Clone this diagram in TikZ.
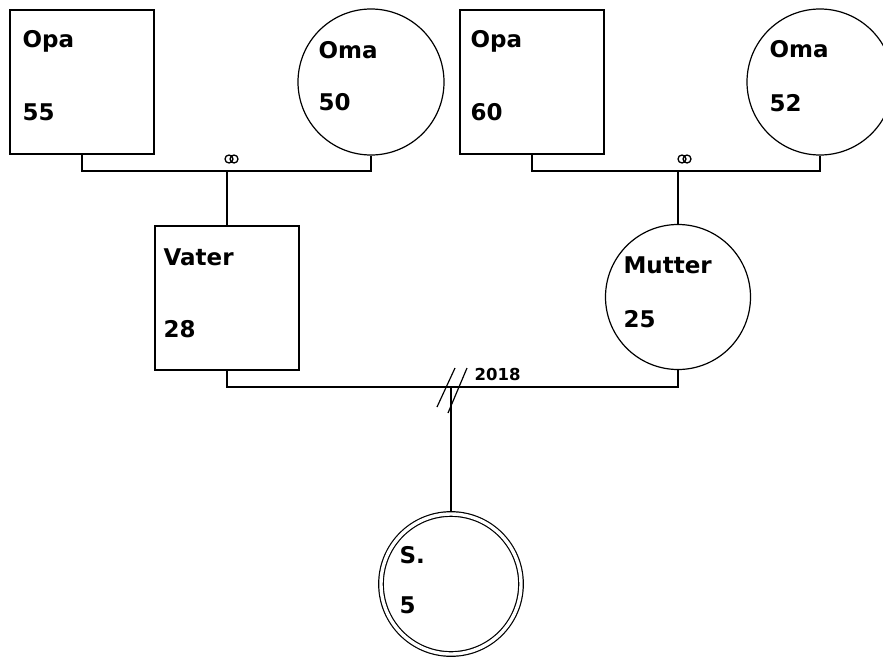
\documentclass[tikz,border=0pt]{standalone}
\usepackage{fontspec}
\setmainfont{DejaVu Sans}
\begin{document}
\begin{tikzpicture}[x=1pt,y=-1pt,line width=1.2pt,
  male/.style={draw,rectangle,minimum width=144pt,minimum height=144pt,inner sep=0pt},
  female/.style={draw,circle,minimum size=146pt,inner sep=0pt},
  lbl/.style={anchor=base west,inner sep=0pt,font=\bfseries\fontsize{23}{26}\selectfont},
  yearlbl/.style={anchor=base west,inner sep=0pt,font=\bfseries\fontsize{16.5}{19}\selectfont},
  rings/.style={line width=1.3pt}]
\useasboundingbox (0,0) rectangle (883,656);

% grandparents
\node[male]   (opaL) at (82,82) {};
\node[female] (omaL) at (371,82) {};
\node[male]   (opaR) at (532,82) {};
\node[female] (omaR) at (820,82) {};
% parents
\node[male]   (vater)  at (227,298) {};
\node[female,minimum size=145pt] (mutter) at (678,297) {};
% child
\node[female,minimum size=140pt,double,double distance=3.4pt,outer sep=3pt] (kind) at (451,584) {};

% labels
\node[lbl] (tOpaL) at (22,47) {Opa};
\node[lbl] (aOpaL) at (22,120) {55};
\node[lbl] (tOmaL) at (318,58) {Oma};
\node[lbl] (aOmaL) at (318,110) {50};
\node[lbl] (tOpaR) at (470,47) {Opa};
\node[lbl] (aOpaR) at (470,120) {60};
\node[lbl] (tOmaR) at (769,57) {Oma};
\node[lbl] (aOmaR) at (769,111) {52};
\node[lbl] (tVater) at (163,265) {Vater};
\node[lbl] (aVater) at (163,337) {28};
\node[lbl] (tMutter) at (623,273) {Mutter};
\node[lbl] (aMutter) at (623,327) {25};
\node[lbl] (tKind) at (399,563) {S.};
\node[lbl] (aKind) at (399,613) {5};
\node[yearlbl] (year) at (474,380) {2018};

% junction points
\coordinate (jL) at (227,171);
\coordinate (jR) at (678,171);
\coordinate (jM) at (451,387);

% couple lines
\draw (opaL.south) |- (omaL.south |- jL) -- (omaL.south);
\draw (opaR.south) |- (omaR.south |- jR) -- (omaR.south);
\draw (vater.south) |- (mutter.south |- jM) -- (mutter.south);

% descent lines
\draw (jL) -- (vater.north);
\draw (jR) -- (mutter.north);
\draw (jM) -- (kind.north);

% marriage rings
\draw[rings] (229,159) circle (4pt) (234,159) circle (4pt);
\draw[rings] (682,159) circle (4pt) (687,159) circle (4pt);

% separation strokes
\draw[line width=1.2pt] (437,407) -- (455,368);
\draw[line width=1.2pt] (448,413) -- (467,368);
\end{tikzpicture}
\end{document}
